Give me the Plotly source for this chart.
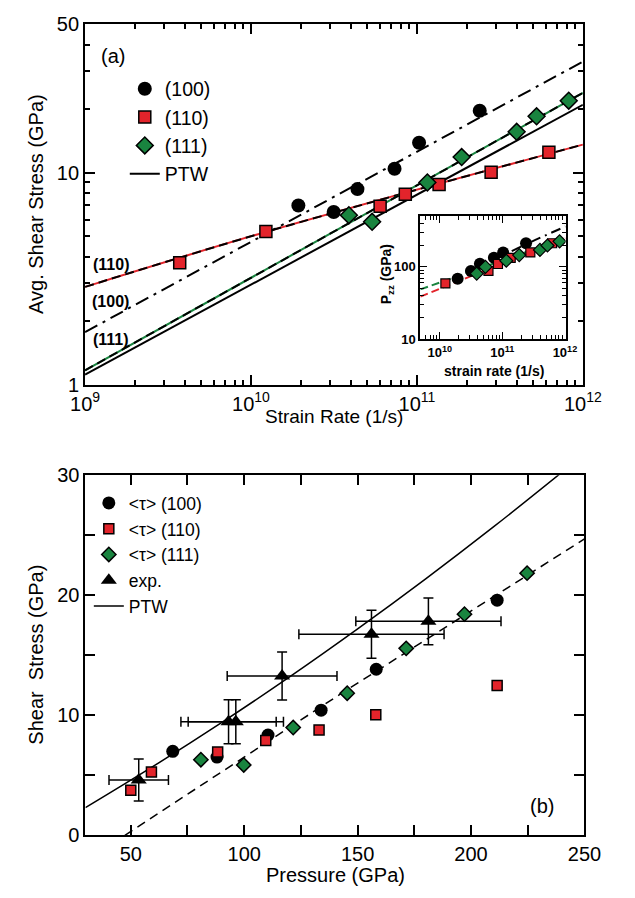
import plotly.graph_objects as go

FONT = "Liberation Sans, Arial, Helvetica, sans-serif"
RED = "#e3242b"
GREEN = "#19843f"
W, H = 635, 898

# ---------------- data ----------------
# (100)
rate_100 = [1.93e10, 3.15e10, 4.38e10, 7.33e10, 1.03e11, 2.39e11]
stress_100 = [7.0, 6.52, 8.36, 10.43, 13.84, 19.6]
press_100 = [68.5, 88.0, 110.5, 133.9, 158.2, 211.5]
# (110)
rate_110 = [3.72e9, 1.23e10, 6.0e10, 8.51e10, 1.36e11, 2.80e11, 6.24e11]
stress_110 = [3.76, 5.28, 6.95, 7.9, 8.78, 10.05, 12.48]
press_110 = [50.0, 59.1, 88.3, 109.5, 133.0, 158.0, 211.5]
# (111)
rate_111 = [3.89e10, 5.37e10, 1.156e11, 1.86e11, 3.99e11, 5.26e11, 8.22e11]
stress_111 = [6.30, 5.86, 8.98, 11.84, 15.58, 18.43, 21.85]
press_111 = [80.9, 99.8, 121.6, 145.4, 171.4, 197.1, 224.7]

# experiments
exp_press = [53.5, 93.1, 96.3, 116.7, 156.1, 181.2]
exp_press_err = [13.1, 21.0, 21.0, 24.2, 32.0, 32.0]
exp_stress = [4.6, 9.47, 9.47, 13.27, 16.75, 17.83]
exp_stress_err = [1.75, 1.83, 1.83, 2.0, 2.0, 1.95]

# fits, panel (a)
fit_rate = [1e9, 1e12]
fit_100 = [1.77, 33.4]
fit_111 = [1.168, 23.8]
ptw_a = [1.115, 20.9]
fit_110_rate = [1e9, 1.23e10, 1e12]
fit_110 = [2.89, 5.25, 13.56]

# fits, inset
inset_rate = [4.9e9, 1.02e12]
inset_fit_110 = [39, 249]
inset_fit_111 = [49, 249]
inset_fit_100_rate = [1.6e10, 2.4e11, 1.02e12]
inset_fit_100 = [64, 205, 360]

# fits, panel (b)
ptw_press = [30, 60, 90, 120, 150, 180, 210, 240]
ptw_stress = [2.3, 5.76, 9.39, 13.2, 17.2, 21.37, 25.72, 30.25]
fit_press = [47.4, 142.3, 250]
fit_stress = [0.0, 11.76, 24.7]


def px(x):
    return x / W


def py(y):
    return 1 - y / H


fig = go.Figure()

# ---------- panel (a) lines ----------
fig.add_trace(go.Scatter(x=fit_110_rate, y=fit_110, mode="lines", line=dict(color=RED, width=2, shape="spline"),
                         xaxis="x", yaxis="y", showlegend=False))
fig.add_trace(go.Scatter(x=fit_110_rate, y=fit_110, mode="lines",
                         line=dict(color="black", width=2, dash="9px,5px", shape="spline"),
                         xaxis="x", yaxis="y", showlegend=False))
fig.add_trace(go.Scatter(x=fit_rate, y=fit_111, mode="lines", line=dict(color=GREEN, width=2),
                         xaxis="x", yaxis="y", showlegend=False))
fig.add_trace(go.Scatter(x=fit_rate, y=fit_111, mode="lines", line=dict(color="black", width=2, dash="9px,5px"),
                         xaxis="x", yaxis="y", showlegend=False))
fig.add_trace(go.Scatter(x=fit_rate, y=fit_100, mode="lines",
                         line=dict(color="black", width=2, dash="14px,6px,3px,6px"),
                         xaxis="x", yaxis="y", showlegend=False))
fig.add_trace(go.Scatter(x=fit_rate, y=ptw_a, mode="lines", line=dict(color="black", width=2),
                         xaxis="x", yaxis="y", name="PTW", legend="legend", legendrank=4))

# ---------- panel (a) markers ----------
fig.add_trace(go.Scatter(x=rate_100, y=stress_100, mode="markers", name="(100)",
                         marker=dict(symbol="circle", size=14, color="black"),
                         xaxis="x", yaxis="y", legend="legend", legendrank=1))
fig.add_trace(go.Scatter(x=rate_110, y=stress_110, mode="markers", name="(110)",
                         marker=dict(symbol="square", size=12, color=RED, line=dict(color="black", width=1.5)),
                         xaxis="x", yaxis="y", legend="legend", legendrank=2))
fig.add_trace(go.Scatter(x=rate_111, y=stress_111, mode="markers", name="(111)",
                         marker=dict(symbol="diamond", size=13, color=GREEN, line=dict(color="black", width=1.5)),
                         xaxis="x", yaxis="y", legend="legend", legendrank=3))

# ---------- inset ----------
fig.add_trace(go.Scatter(x=inset_rate, y=inset_fit_110, mode="lines", line=dict(color=RED, width=2, dash="8px,4px"),
                         xaxis="x3", yaxis="y3", showlegend=False))
fig.add_trace(go.Scatter(x=inset_rate, y=inset_fit_111, mode="lines", line=dict(color=GREEN, width=2, dash="8px,4px"),
                         xaxis="x3", yaxis="y3", showlegend=False))
fig.add_trace(go.Scatter(x=inset_fit_100_rate, y=inset_fit_100, mode="lines",
                         line=dict(color="black", width=2, dash="10px,5px,2px,5px", shape="spline"),
                         xaxis="x3", yaxis="y3", showlegend=False))
fig.add_trace(go.Scatter(x=rate_100, y=press_100, mode="markers", marker=dict(symbol="circle", size=12, color="black"),
                         xaxis="x3", yaxis="y3", showlegend=False))
fig.add_trace(go.Scatter(x=rate_110, y=press_110, mode="markers",
                         marker=dict(symbol="square", size=9, color=RED, line=dict(color="black", width=1.2)),
                         xaxis="x3", yaxis="y3", showlegend=False))
fig.add_trace(go.Scatter(x=rate_111, y=press_111, mode="markers",
                         marker=dict(symbol="diamond", size=10, color=GREEN, line=dict(color="black", width=1.2)),
                         xaxis="x3", yaxis="y3", showlegend=False))

# ---------- panel (b) ----------
fig.add_trace(go.Scatter(x=ptw_press, y=ptw_stress, mode="lines", name="PTW",
                         line=dict(color="black", width=1.5, shape="spline"),
                         xaxis="x2", yaxis="y2", legend="legend2", legendrank=5))
fig.add_trace(go.Scatter(x=fit_press, y=fit_stress, mode="lines", line=dict(color="black", width=1.5, dash="9px,6px"),
                         xaxis="x2", yaxis="y2", showlegend=False))
fig.add_trace(go.Scatter(x=exp_press, y=exp_stress, mode="markers", name="exp.",
                         marker=dict(symbol="triangle-up", size=14, color="black"),
                         error_x=dict(type="data", array=exp_press_err, color="black", thickness=1.5, width=5),
                         error_y=dict(type="data", array=exp_stress_err, color="black", thickness=1.5, width=5),
                         xaxis="x2", yaxis="y2", legend="legend2", legendrank=4))
fig.add_trace(go.Scatter(x=press_100, y=stress_100, mode="markers", name="&lt;τ&gt; (100)",
                         marker=dict(symbol="circle", size=13, color="black"),
                         xaxis="x2", yaxis="y2", legend="legend2", legendrank=1))
fig.add_trace(go.Scatter(x=press_110, y=stress_110, mode="markers", name="&lt;τ&gt; (110)",
                         marker=dict(symbol="square", size=10, color=RED, line=dict(color="black", width=1.5)),
                         xaxis="x2", yaxis="y2", legend="legend2", legendrank=2))
fig.add_trace(go.Scatter(x=press_111, y=stress_111, mode="markers", name="&lt;τ&gt; (111)",
                         marker=dict(symbol="diamond", size=11, color=GREEN, line=dict(color="black", width=1.5)),
                         xaxis="x2", yaxis="y2", legend="legend2", legendrank=3))

# ---------- axes ----------
common = dict(showgrid=False, zeroline=False, showline=True, linecolor="black", linewidth=2,
              mirror="ticks", ticks="inside", tickcolor="black", tickwidth=1.5,
              tickfont=dict(family=FONT, size=20, color="black"))

dec_minor = lambda lo, hi: [m * 10 ** e for e in range(lo, hi) for m in range(2, 10)]

fig.update_layout(
    xaxis=dict(**common, type="log", range=[9, 12], domain=[px(74), px(600)], anchor="y",
               tickvals=[1e9, 1e10, 1e11, 1e12],
               ticktext=["10<sup>9</sup>", "10<sup>10</sup>", "10<sup>11</sup>", "10<sup>12</sup>"],
               ticklen=10,
               minor=dict(ticks="inside", ticklen=5, tickcolor="black", tickwidth=1.5, showgrid=False,
                          tickvals=dec_minor(9, 12))),
    yaxis=dict(**common, type="log", range=[0, 1.69897], domain=[py(383), py(13.8)], anchor="x",
               tickvals=[1, 10, 50], ticktext=["1", "10", "50"], ticklen=10,
               minor=dict(ticks="inside", ticklen=5, tickcolor="black", tickwidth=1.5, showgrid=False,
                          tickvals=[2, 3, 4, 5, 6, 7, 8, 9, 20, 30, 40])),
    xaxis2=dict(**common, range=[30, 250], domain=[px(74.4), px(601.7)], anchor="y2",
                tickvals=[50, 100, 150, 200, 250], ticklen=10,
                minor=dict(ticks="inside", ticklen=10, tickcolor="black", tickwidth=1.5, showgrid=False,
                           tickvals=[75, 125, 175, 225])),
    yaxis2=dict(**common, range=[0, 30], domain=[py(845), py(476)], anchor="x2",
                tickvals=[0, 10, 20, 30], ticklen=10,
                minor=dict(ticks="inside", ticklen=10, tickcolor="black", tickwidth=1.5, showgrid=False,
                           tickvals=[5, 15, 25])),
    xaxis3=dict(showgrid=False, zeroline=False, showline=True, linecolor="black", linewidth=2,
                mirror="ticks", ticks="inside", tickcolor="black", tickwidth=1.2, ticklen=7,
                tickfont=dict(family=FONT, size=13, color="black", weight="bold"),
                type="log", range=[9.69, 12.01], domain=[px(428.3), px(581.7)], anchor="y3",
                tickvals=[1e10, 1e11, 1e12],
                ticktext=["10<sup>10</sup>", "10<sup>11</sup>", "10<sup>12</sup>"],
                minor=dict(ticks="inside", ticklen=4, tickcolor="black", tickwidth=1.2, showgrid=False,
                           tickvals=dec_minor(9, 12))),
    yaxis3=dict(showgrid=False, zeroline=False, showline=True, linecolor="black", linewidth=2,
                mirror="ticks", ticks="inside", tickcolor="black", tickwidth=1.2, ticklen=7,
                tickfont=dict(family=FONT, size=13, color="black", weight="bold"),
                type="log", range=[1, 2.703], domain=[py(336.7), py(210)], anchor="x3",
                tickvals=[10, 100], ticktext=["10", "100"],
                minor=dict(ticks="inside", ticklen=4, tickcolor="black", tickwidth=1.2, showgrid=False,
                           tickvals=dec_minor(1, 3)[:8] + [200, 300, 400, 500])),
)

fig.update_layout(
    width=W, height=H, margin=dict(l=0, r=0, t=0, b=0),
    paper_bgcolor="white", plot_bgcolor="white",
    font=dict(family=FONT, color="black"),
    legend=dict(x=px(116), y=py(60), xanchor="left", yanchor="top", bgcolor="rgba(0,0,0,0)",
                font=dict(family=FONT, size=19.5, color="black"), itemwidth=30, tracegroupgap=0),
    legend2=dict(x=px(78), y=py(486), xanchor="left", yanchor="top", bgcolor="rgba(0,0,0,0)",
                 font=dict(family=FONT, size=17.5, color="black"), itemwidth=30, tracegroupgap=0),
)

ann = []


def A(text, x, y, size=20, bold=False, angle=0):
    ann.append(dict(text=text, x=px(x), y=py(y), xref="paper", yref="paper", showarrow=False,
                    xanchor="center", yanchor="middle", textangle=angle,
                    font=dict(family=FONT, size=size, color="black", weight="bold" if bold else "normal")))


A("(a)", 104, 46)
A("(110)", 101, 260, 16, True)
A("(100)", 101, 298, 16, True)
A("(111)", 101, 337, 16, True)
A("(b)", 557, 815)
A("Strain Rate (1/s)", 337, 416, 19)
A("Avg. Shear Stress (GPa)", 22, 198, 20, angle=-90)
A("Pressure (GPa)", 339, 886, 20)
A("Shear  Stress (GPa)", 22, 660, 20, angle=-90)
A("strain rate (1/s)", 506, 369, 14, True)
A("P<sub>zz</sub> (GPa)", 393, 270, 14, True, angle=-90)
fig.update_layout(annotations=ann)

fig.write_html("out.html")
